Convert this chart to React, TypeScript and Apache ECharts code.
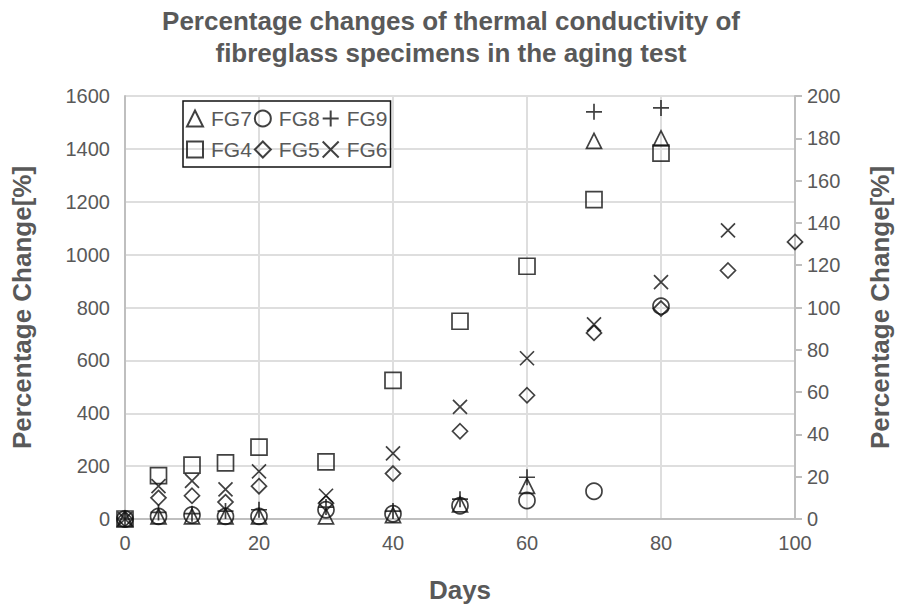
import React, { useEffect, useRef } from "react";
import * as echarts from "echarts";

const titleText = "Percentage changes of thermal conductivity of\nfibreglass specimens in the aging test";
const seriesNames = ["FG7", "FG8", "FG9", "FG4", "FG5", "FG6"];

const daysFG7 = [0, 5, 10, 15, 20, 30, 40, 50, 60, 70, 80];
const fg7 = [0, 10, 10, 10, 10, 10, 15, 55, 125, 1430, 1440];
const daysFG8 = [0, 5, 10, 15, 20, 30, 40, 50, 60, 70, 80];
const fg8 = [0, 10, 15, 10, 10, 35, 20, 50, 70, 105, 805];
const daysFG9 = [0, 5, 10, 15, 20, 30, 40, 50, 60, 70, 80];
const fg9 = [0, 25, 20, 30, 35, 45, 30, 75, 158, 1540, 1555];

const daysFG4 = [0, 5, 10, 15, 20, 30, 40, 50, 60, 70, 80];
const fg4 = [0, 20.5, 25.5, 26.5, 34, 27, 65.5, 93.5, 119.5, 151, 173];
const daysFG5 = [0, 5, 10, 15, 20, 30, 40, 50, 60, 70, 80, 90, 100];
const fg5 = [0, 10, 11, 8, 15.5, 7.5, 21.5, 41.5, 58.5, 88, 99.5, 117.5, 131];
const daysFG6 = [0, 5, 10, 15, 20, 30, 40, 50, 60, 70, 80, 90];
const fg6 = [0, 15.5, 18, 14, 22.5, 11, 31, 53, 76, 92, 112, 136.5];

const PLUS = "path://M0,5L10,5M5,0L5,10";
const CROSS = "path://M0,0L10,10M10,0L0,10";

const pair = (xs: number[], ys: number[]) => xs.map((x, i) => [x, ys[i]]);

export default function App() {
  const ref = useRef<HTMLDivElement>(null);
  useEffect(() => {
    if (!ref.current) return;
    const chart = echarts.init(ref.current, null, { renderer: "svg" });
    const font = "'Liberation Sans', Arial, sans-serif";
    const grey = "#595959";
    const mk = (name: string, symbol: string, size: number, data: number[][], yAxisIndex: number) => ({
      name,
      type: "scatter",
      yAxisIndex,
      symbol,
      symbolSize: size,
      data,
      itemStyle: { color: "rgba(0,0,0,0)", borderColor: "#111", borderWidth: 1.7 },
      emphasis: { disabled: true },
    });
    chart.setOption({
      animation: false,
      textStyle: { fontFamily: font },
      title: {
        text: titleText,
        left: "center",
        top: 0,
        textStyle: { fontFamily: font, fontSize: 26, fontWeight: "bold", color: grey, lineHeight: 32 },
      },
      legend: {
        data: seriesNames,
        left: 183,
        top: 101,
        width: 215,
        itemWidth: 16,
        itemHeight: 16,
        itemGap: 2,
        padding: [3, 3],
        borderColor: "#111",
        borderWidth: 1.5,
        textStyle: { fontFamily: font, fontSize: 21, color: grey, lineHeight: 29, padding: [0, 0, 0, 3] },
      },
      grid: { left: 125, right: 107, top: 96, bottom: 87 },
      xAxis: {
        type: "value",
        min: 0,
        max: 100,
        interval: 20,
        name: "Days",
        nameLocation: "middle",
        nameGap: 58,
        nameTextStyle: { fontFamily: font, fontSize: 26, fontWeight: "bold", color: grey },
        axisLine: { show: true, lineStyle: { color: "#bfbfbf", width: 2 } },
        axisTick: { show: false },
        axisLabel: { fontFamily: font, fontSize: 20, color: grey, margin: 14 },
        splitLine: { show: true, lineStyle: { color: "#dedede", width: 2 } },
      },
      yAxis: [
        {
          type: "value",
          min: 0,
          max: 1600,
          interval: 200,
          position: "left",
          name: "Percentage Change[%]",
          nameLocation: "middle",
          nameGap: 90,
          nameTextStyle: { fontFamily: font, fontSize: 26, fontWeight: "bold", color: grey },
          axisLine: { show: true, lineStyle: { color: "#bfbfbf", width: 2 } },
          axisTick: { show: false },
          axisLabel: { fontFamily: font, fontSize: 20, color: grey, margin: 15, formatter: (v: number) => String(v) },
          splitLine: { show: true, lineStyle: { color: "#dedede", width: 2 } },
        },
        {
          type: "value",
          min: 0,
          max: 200,
          interval: 20,
          position: "right",
          name: "Percentage Change[%]",
          nameLocation: "middle",
          nameGap: 72,
          nameRotate: 90,
          nameTextStyle: { fontFamily: font, fontSize: 26, fontWeight: "bold", color: grey },
          axisLine: { show: true, lineStyle: { color: "#bfbfbf", width: 2 } },
          axisTick: { show: true, length: 7, lineStyle: { color: "#bfbfbf", width: 2 } },
          axisLabel: { fontFamily: font, fontSize: 20, color: grey, margin: 12, formatter: (v: number) => String(v) },
          splitLine: { show: false },
        },
      ],
      series: [
        mk("FG7", "triangle", 15, pair(daysFG7, fg7), 0),
        mk("FG8", "circle", 16, pair(daysFG8, fg8), 0),
        mk("FG9", PLUS, 16, pair(daysFG9, fg9), 0),
        mk("FG4", "rect", 16, pair(daysFG4, fg4), 1),
        mk("FG5", "diamond", 15, pair(daysFG5, fg5), 1),
        mk("FG6", CROSS, 14, pair(daysFG6, fg6), 1),
      ],
    });
    return () => chart.dispose();
  }, []);
  return (
    <div
      ref={ref}
      style={{ position: "fixed", left: 0, top: 0, width: 902, height: 608, background: "#fff" }}
    />
  );
}
